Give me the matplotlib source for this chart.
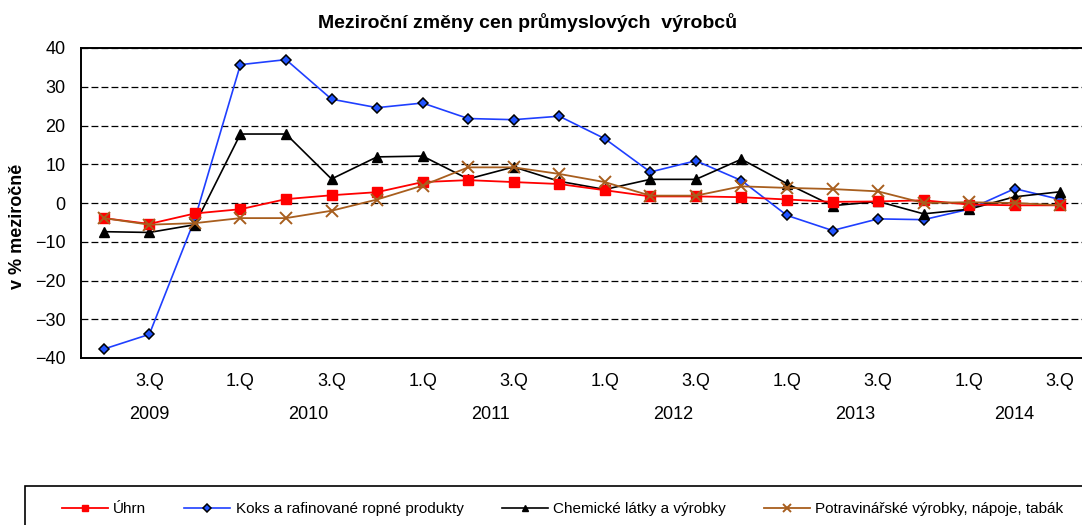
import matplotlib
matplotlib.use("Agg")
import matplotlib.pyplot as plt
from matplotlib.patches import Rectangle
import numpy as np

plt.rcParams["font.family"] = ["Liberation Sans", "DejaVu Sans"]

# quarterly data, 2.Q 2009 .. 3.Q 2014
years    = [2009] * 3 + [2010] * 4 + [2011] * 4 + [2012] * 4 + [2013] * 4 + [2014] * 3
quarters = ["2.Q", "3.Q", "4.Q"] + ["1.Q", "2.Q", "3.Q", "4.Q"] * 4 + ["1.Q", "2.Q", "3.Q"]

uhrn   = [-3.9, -5.4, -2.7, -1.6, 1.0, 2.0, 2.8, 5.4, 5.9, 5.4, 4.9,
          3.3, 1.7, 1.7, 1.5, 0.9, 0.3, 0.4, 0.7, -0.4, -0.6, -0.6]
koks   = [-37.7, -33.9, -4.1, 35.7, 37.0, 26.8, 24.6, 25.8, 21.8, 21.5, 22.4,
          16.6, 8.0, 10.9, 5.8, -3.2, -7.1, -4.1, -4.3, -1.6, 3.7, 0.9]
chem   = [-7.4, -7.6, -5.6, 17.8, 17.8, 6.2, 11.9, 12.1, 6.2, 9.3, 5.6,
          3.5, 6.1, 6.1, 11.3, 5.0, -0.7, 0.4, -2.8, -1.6, 1.6, 2.9]
potrav = [-3.9, -5.6, -5.2, -3.9, -3.9, -2.0, 0.9, 4.5, 9.2, 9.2, 7.5,
          5.4, 1.9, 1.9, 4.3, 3.9, 3.6, 3.0, 0.0, 0.2, 0.0, -0.6]

names = ["Úhrn", "Koks a rafinované ropné produkty",
         "Chemické látky a výrobky", "Potravinářské výrobky, nápoje, tabák"]

BROWN = "#A85E1E"

fig = plt.figure(figsize=(10.82, 5.25), dpi=100)
ax = fig.add_axes([81 / 1082, 1 - 358 / 525, 1002 / 1082, 310 / 525])

x = np.arange(len(uhrn))

ax.plot(x, uhrn, color="#FF0000", lw=1.3, marker="s", ms=7,
        mfc="#FF0000", mec="#FF0000", label=names[0], zorder=4)
ax.plot(x, koks, color="#1F3FFF", lw=1.2, marker="D", ms=5.5,
        mfc="#2255FF", mec="black", mew=1.1, label=names[1], zorder=3)
ax.plot(x, chem, color="black", lw=1.2, marker="^", ms=7,
        mfc="black", mec="black", label=names[2], zorder=3)
ax.plot(x, potrav, color=BROWN, lw=1.3, marker="x", ms=8,
        mew=1.4, label=names[3], zorder=5)

ax.set_xlim(-0.5, len(x) - 0.5)
ax.set_ylim(-40, 40)
ax.set_yticks(np.arange(-40, 41, 10))
for yv in np.arange(-40, 41, 10):
    ax.axhline(yv, color="black", lw=0.9, ls=(0, (5.5, 2.5)), zorder=1)

# only every second quarter is labelled
tick_idx = [i for i in range(len(x)) if i % 2 == 1]
ax.set_xticks(tick_idx)
ax.set_xticklabels([quarters[i] for i in tick_idx])
ax.tick_params(axis="x", length=0, pad=11, labelsize=13)
ax.tick_params(axis="y", length=0, pad=11, labelsize=13)

for yr in sorted(set(years)):
    idx = [i for i, y in enumerate(years) if y == yr]
    ax.annotate(str(yr), xy=(np.mean(idx), 0), xycoords=("data", "axes fraction"),
                xytext=(0, -41), textcoords="offset points",
                ha="center", va="center", fontsize=13)

for side in ["left", "bottom", "top"]:
    ax.spines[side].set_color("black")
    ax.spines[side].set_linewidth(1.4)
ax.spines["right"].set_color("#BBBBBB")
ax.spines["right"].set_linewidth(0.8)

fig.text(528 / 1082, 1 - 22 / 525, "Meziroční změny cen průmyslových  výrobců",
         ha="center", va="center", fontsize=14, fontweight="bold")
fig.text(18 / 1082, 1 - 226 / 525, "v % meziročně", rotation=90,
         ha="center", va="center", fontsize=13, fontweight="bold")

# legend box runs past the bottom/right edge like in the source
fig.add_artist(Rectangle((25 / 1082, -0.05), 1.1, (525 - 486) / 525 + 0.05,
                         transform=fig.transFigure, fill=False,
                         ec="black", lw=1.2, clip_on=False))
handles, labels = ax.get_legend_handles_labels()
leg = fig.legend(handles, labels, loc="center left", ncol=4,
                 bbox_to_anchor=(62 / 1082, 1 - 509 / 525),
                 frameon=False, fontsize=11, markerscale=0.7,
                 borderpad=0, borderaxespad=0,
                 handlelength=3.0, handletextpad=0.35, columnspacing=2.5)

fig.savefig("out.png", dpi=100)
